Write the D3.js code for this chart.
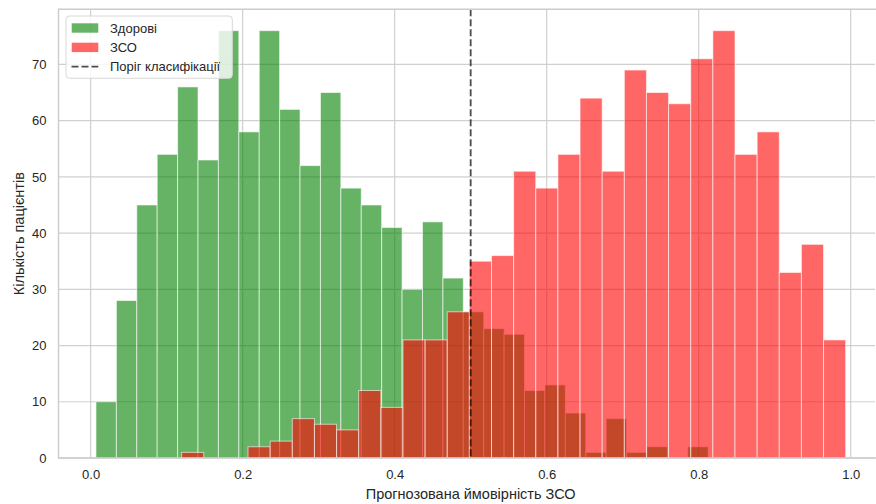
<!DOCTYPE html>
<html>
<head>
<meta charset="utf-8">
<script src="https://cdn.jsdelivr.net/npm/d3@7"></script>
<style>
  body { margin: 0; background: #fff; overflow: hidden; }
  svg { display: block; }
  text { font-family: "Liberation Sans", Arial, sans-serif; fill: #262626; }
</style>
</head>
<body>
<div id="chart"></div>
<script>
// histogram counts, 30 equal bins each
const healthyCounts = [10, 28, 45, 54, 66, 53, 76, 58, 76, 62, 52, 65, 48, 45, 41,
  30, 42, 32, 26, 23, 22, 12, 13, 8, 1, 7, 1, 2, 0, 2]
const healthyRange = [0.007, 0.8125]
const zsoCounts = [1, 0, 0, 2, 3, 7, 6, 5, 12, 9, 21, 21, 26, 35, 36,
  51, 48, 54, 64, 51, 69, 65, 63, 71, 76, 54, 58, 33, 38, 21]
const zsoRange = [0.1197, 0.9934]
const threshold = 0.5
const xTicks = [0, 0.2, 0.4, 0.6, 0.8, 1.0]
const yTicks = [0, 10, 20, 30, 40, 50, 60, 70]
const legendLabels = ['Здорові', 'ЗСО', 'Поріг класифікації']

const W = 876
const H = 504
const margin = { t: 9.3, l: 58.5, r: 0, b: 46 }
const innerWidth = W - margin.l - margin.r
const innerHeight = H - margin.t - margin.b

function toBins(counts, range) {
  const step = (range[1] - range[0]) / counts.length
  return counts.map((c, i) => ({ x0: range[0] + i * step, x1: range[0] + (i + 1) * step, n: c }))
}

// the plot area runs a little past the right edge of the picture
const scaleX = d3.scaleLinear().domain([-0.0423, 1.0333]).range([0, innerWidth])
const scaleY = d3.scaleLinear().domain([0, 79.8]).range([innerHeight, 0])

const svg = d3.select('#chart')
  .append('svg')
  .attr('width', W)
  .attr('height', H)

const plot = svg.append('g')
  .attr('transform', `translate(${margin.l}, ${margin.t})`)

// grid lines on their own, labels on the axes
const grid = plot.append('g').attr('class', 'grid')
grid.selectAll('line.gx')
  .data(xTicks)
  .enter()
  .append('line')
  .attr('x1', d => scaleX(d)).attr('x2', d => scaleX(d))
  .attr('y1', 0).attr('y2', innerHeight)
grid.selectAll('line.gy')
  .data(yTicks)
  .enter()
  .append('line')
  .attr('x1', 0).attr('x2', innerWidth - 1)
  .attr('y1', d => scaleY(d)).attr('y2', d => scaleY(d))
grid.selectAll('line').attr('stroke', '#d0d0d0').attr('stroke-width', 1.2)

plot.append('g')
  .attr('class', 'axis axis-x')
  .attr('transform', `translate(0, ${innerHeight})`)
  .call(d3.axisBottom(scaleX).tickValues(xTicks).tickSize(0).tickPadding(12).tickFormat(d3.format('.1f')))
  .call(g => g.select('.domain').remove())
  .call(g => g.selectAll('text').attr('font-size', 13).attr('fill', '#262626'))

plot.append('g')
  .attr('class', 'axis axis-y')
  .call(d3.axisLeft(scaleY).tickValues(yTicks).tickSize(0).tickPadding(12))
  .call(g => g.select('.domain').remove())
  .call(g => g.selectAll('text').attr('font-size', 13).attr('fill', '#262626'))

function drawHist(bins, color) {
  plot.append('g')
    .selectAll('rect')
    .data(bins.filter(b => b.n > 0))
    .enter()
    .append('rect')
    .attr('x', d => scaleX(d.x0))
    .attr('width', d => scaleX(d.x1) - scaleX(d.x0))
    .attr('y', d => scaleY(d.n))
    .attr('height', d => scaleY(0) - scaleY(d.n))
    .attr('fill', color)
    .attr('fill-opacity', 0.6)
    .attr('stroke', '#fff')
    .attr('stroke-opacity', 0.6)
    .attr('stroke-width', 1)
}

drawHist(toBins(healthyCounts, healthyRange), '#008000')
drawHist(toBins(zsoCounts, zsoRange), '#ff0000')

plot.append('line')
  .attr('x1', scaleX(threshold))
  .attr('x2', scaleX(threshold))
  .attr('y1', 0)
  .attr('y2', innerHeight)
  .attr('stroke', '#000')
  .attr('stroke-opacity', 0.7)
  .attr('stroke-width', 1.8)
  .attr('stroke-dasharray', '7,3')

// spines: left, top, bottom (right one is outside the picture)
plot.append('path')
  .attr('d', `M${innerWidth},0H0V${innerHeight}H${innerWidth}`)
  .attr('fill', 'none')
  .attr('stroke', '#cccccc')
  .attr('stroke-width', 1.4)

// axis labels
svg.append('text')
  .attr('x', 470.7)
  .attr('y', 499)
  .attr('text-anchor', 'middle')
  .attr('font-size', 14.5)
  .text('Прогнозована ймовірність ЗСО')

svg.append('text')
  .attr('transform', `translate(23.5, ${margin.t + innerHeight / 2}) rotate(-90)`)
  .attr('text-anchor', 'middle')
  .attr('font-size', 14.5)
  .text('Кількість пацієнтів')

// legend
const legend = svg.append('g').attr('transform', 'translate(66, 16)')
legend.append('rect')
  .attr('width', 166.3)
  .attr('height', 62.3)
  .attr('rx', 3.5)
  .attr('fill', '#fff')
  .attr('fill-opacity', 0.8)
  .attr('stroke', '#d8d8d8')
  .attr('stroke-width', 1)

const swatches = ['#008000', '#ff0000']
swatches.forEach((c, i) => {
  legend.append('rect')
    .attr('x', 5.7)
    .attr('y', 7.3 + i * 19.4)
    .attr('width', 26.6)
    .attr('height', 9.4)
    .attr('fill', c)
    .attr('fill-opacity', 0.6)
})
legend.append('line')
  .attr('x1', 5.5).attr('x2', 32.3)
  .attr('y1', 50.7).attr('y2', 50.7)
  .attr('stroke', '#000')
  .attr('stroke-opacity', 0.7)
  .attr('stroke-width', 1.8)
  .attr('stroke-dasharray', '7,3')

legend.selectAll('text.lab')
  .data(legendLabels)
  .enter()
  .append('text')
  .attr('class', 'lab')
  .attr('x', 44)
  .attr('y', (d, i) => 16.7 + i * 19.3)
  .attr('font-size', 13)
  .text(d => d)
</script>
</body>
</html>
